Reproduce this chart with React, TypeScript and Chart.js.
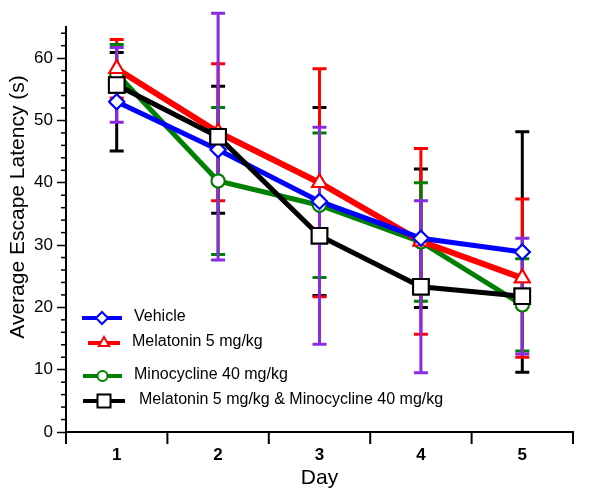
import { useEffect, useRef } from "react";
import { Chart, registerables } from "chart.js";

Chart.register(...registerables);

const FONT = "'Liberation Sans', Arial, Helvetica, sans-serif";

// ---- data ----
const days = [1, 2, 3, 4, 5];
const xEdgeTicks = [0.5, 1.5, 2.5, 3.5, 4.5, 5.5];
const yMajorTicks = [0, 10, 20, 30, 40, 50, 60];
const yMinorTicks = [2, 4, 6, 8, 12, 14, 16, 18, 22, 24, 26, 28, 32, 34, 36, 38, 42, 44, 46, 48, 52, 54, 56, 58, 62, 64];

const seriesNames = [
  "Vehicle",
  "Melatonin 5 mg/kg",
  "Minocycline 40 mg/kg",
  "Melatonin 5 mg/kg & Minocycline 40 mg/kg",
];

const vehicleMean = [53.0, 45.3, 37.0, 31.1, 28.9];
const vehicleErr = [7.9, 10.2, 15.1, 11.1, 19.3];
const melatoninMean = [58.3, 48.1, 40.0, 30.6, 24.7];
const melatoninErr = [4.7, 11.0, 18.3, 14.9, 12.7];
const minocyclineMean = [57.5, 40.3, 36.4, 30.5, 20.4];
const minocyclineErr = [4.7, 11.8, 11.6, 9.5, 7.4];
const comboMean = [55.7, 47.4, 31.5, 23.3, 21.8];
const comboErr = [6.0, 19.8, 17.4, 13.8, 9.3];

const means = [vehicleMean, melatoninMean, minocyclineMean, comboMean];
const errs = [vehicleErr, melatoninErr, minocyclineErr, comboErr];

// ---- styles ----
const styles = [
  { color: "#0000ff", err: "#000000", point: "rectRot", radius: 7.5, width: 5, order: 1 },
  { color: "#ff0000", err: "#ff0000", point: "triangle", radius: 8.5, width: 6, order: 2 },
  { color: "#008000", err: "#008000", point: "circle", radius: 6.5, width: 5, order: 3 },
  { color: "#000000", err: "#8a2be2", point: "rect", radius: 11, width: 5, order: 0 },
];

const legendLayout = [
  { y: 318, x1: 82, x2: 122, tx: 134 },
  { y: 343, x1: 88, x2: 120, tx: 132 },
  { y: 376, x1: 83, x2: 122, tx: 134 },
  { y: 401, x1: 83, x2: 125, tx: 139 },
];

function drawMarker(ctx: CanvasRenderingContext2D, kind: string, x: number, y: number, r: number, color: string) {
  ctx.save();
  ctx.beginPath();
  if (kind === "rectRot") {
    ctx.moveTo(x - r, y);
    ctx.lineTo(x, y - r);
    ctx.lineTo(x + r, y);
    ctx.lineTo(x, y + r);
    ctx.closePath();
  } else if (kind === "triangle") {
    ctx.moveTo(x, y - r);
    ctx.lineTo(x + r * 0.866, y + r * 0.5);
    ctx.lineTo(x - r * 0.866, y + r * 0.5);
    ctx.closePath();
  } else if (kind === "circle") {
    ctx.arc(x, y, r, 0, Math.PI * 2);
  } else {
    ctx.rect(x - r, y - r, 2 * r, 2 * r);
  }
  ctx.fillStyle = "#ffffff";
  ctx.fill();
  ctx.lineWidth = 2;
  ctx.strokeStyle = color;
  ctx.stroke();
  ctx.restore();
}

const customPlugin = {
  id: "customDraw",
  afterDraw(chart: any) {
    const ctx: CanvasRenderingContext2D = chart.ctx;
    const x = chart.scales.x;
    const y = chart.scales.y;
    const left = chart.chartArea.left;
    const bottom = chart.chartArea.bottom;
    ctx.save();
    ctx.strokeStyle = "#000";
    ctx.lineWidth = 1.5;
    // minor y ticks
    yMinorTicks.forEach((v) => {
      const py = y.getPixelForValue(v);
      ctx.beginPath();
      ctx.moveTo(left - 5, py);
      ctx.lineTo(left, py);
      ctx.stroke();
    });
    // x ticks at half days
    ctx.lineWidth = 2;
    xEdgeTicks.forEach((v) => {
      const px = x.getPixelForValue(v);
      ctx.beginPath();
      ctx.moveTo(px, bottom);
      ctx.lineTo(px, bottom + 12);
      ctx.stroke();
    });
    ctx.restore();

    // y title
    ctx.save();
    ctx.translate(18, 207);
    ctx.rotate(-Math.PI / 2);
    ctx.font = `21px ${FONT}`;
    ctx.fillStyle = "#000";
    ctx.textAlign = "center";
    ctx.textBaseline = "middle";
    ctx.fillText("Average Escape Latency (s)", 0, 0);
    ctx.restore();

    // legend
    ctx.save();
    seriesNames.forEach((name, i) => {
      const L = legendLayout[i];
      const s = styles[i];
      ctx.strokeStyle = s.color;
      ctx.lineWidth = 4;
      ctx.beginPath();
      ctx.moveTo(L.x1, L.y);
      ctx.lineTo(L.x2, L.y);
      ctx.stroke();
      const mr = s.point === "rect" ? 6.5 : s.point === "circle" ? 5 : 6;
      drawMarker(ctx, s.point, (L.x1 + L.x2) / 2, L.y, mr, s.color);
      ctx.fillStyle = "#000";
      ctx.font = `16px ${FONT}`;
      ctx.textAlign = "left";
      ctx.textBaseline = "middle";
      ctx.fillText(name, L.tx, L.y - 1);
    });
    ctx.restore();
  },
  afterDatasetsDraw(chart: any) {
    const ctx: CanvasRenderingContext2D = chart.ctx;
    const x = chart.scales.x;
    const y = chart.scales.y;
    ctx.save();
    means.forEach((m, i) => {
      ctx.strokeStyle = styles[i].err;
      ctx.lineWidth = 3;
      m.forEach((v, j) => {
        const px = x.getPixelForValue(days[j]);
        const top = y.getPixelForValue(v + errs[i][j]);
        const bot = y.getPixelForValue(v - errs[i][j]);
        ctx.beginPath();
        ctx.moveTo(px, top);
        ctx.lineTo(px, bot);
        ctx.moveTo(px - 7, top);
        ctx.lineTo(px + 7, top);
        ctx.moveTo(px - 7, bot);
        ctx.lineTo(px + 7, bot);
        ctx.stroke();
      });
    });
    ctx.restore();
    // redraw points over error bars
    [2, 1, 0, 3].forEach((i) => {
      const meta = chart.getDatasetMeta(i);
      meta.data.forEach((el: any) => el.draw(ctx, chart.chartArea));
    });
  },
};

export default function App() {
  const ref = useRef<HTMLCanvasElement | null>(null);
  useEffect(() => {
    if (!ref.current) return;
    Chart.defaults.font.family = FONT;
    const chart = new Chart(ref.current, {
      type: "line",
      data: {
        datasets: means.map((m, i) => ({
          label: seriesNames[i],
          data: m.map((v, j) => ({ x: days[j], y: v })),
          borderColor: styles[i].color,
          borderWidth: styles[i].width,
          pointStyle: styles[i].point as any,
          pointRadius: styles[i].radius,
          pointBorderWidth: 2,
          pointBorderColor: styles[i].color,
          pointBackgroundColor: "#ffffff",
          tension: 0,
          fill: false,
          order: styles[i].order,
        })),
      },
      options: {
        animation: false,
        responsive: true,
        maintainAspectRatio: false,
        layout: { padding: { top: 27, right: 27, left: 0, bottom: 0 } },
        plugins: { legend: { display: false }, tooltip: { enabled: false } },
        scales: {
          x: {
            type: "linear",
            min: 0.5,
            max: 5.5,
            afterBuildTicks: (s: any) => {
              s.ticks = days.map((v) => ({ value: v }));
            },
            afterFit: (s: any) => {
              s.height = 67;
            },
            grid: { drawOnChartArea: false, drawTicks: true, tickLength: 12, color: "rgba(0,0,0,0)" },
            border: { display: true, color: "#000", width: 2 },
            ticks: {
              color: "#000",
              font: { size: 17, weight: "bold" },
              padding: 1,
              maxRotation: 0,
              callback: (v: any) => String(v),
            },
            title: {
              display: true,
              text: "Day",
              color: "#000",
              font: { size: 21 },
              padding: { top: 0, bottom: 8 },
            },
          },
          y: {
            type: "linear",
            min: 0,
            max: 65,
            afterBuildTicks: (s: any) => {
              s.ticks = yMajorTicks.map((v) => ({ value: v }));
            },
            afterFit: (s: any) => {
              s.width = 66;
            },
            grid: { drawOnChartArea: false, drawTicks: true, tickLength: 9, color: "#000", tickWidth: 1.5 },
            border: { display: true, color: "#000", width: 2 },
            ticks: { color: "#000", font: { size: 17 }, padding: 4, callback: (v: any) => String(v) },
          },
        },
      },
      plugins: [customPlugin],
    });
    return () => chart.destroy();
  }, []);
  return (
    <div style={{ position: "fixed", left: 0, top: 0, width: 600, height: 499, background: "#fff" }}>
      <canvas ref={ref} />
    </div>
  );
}
